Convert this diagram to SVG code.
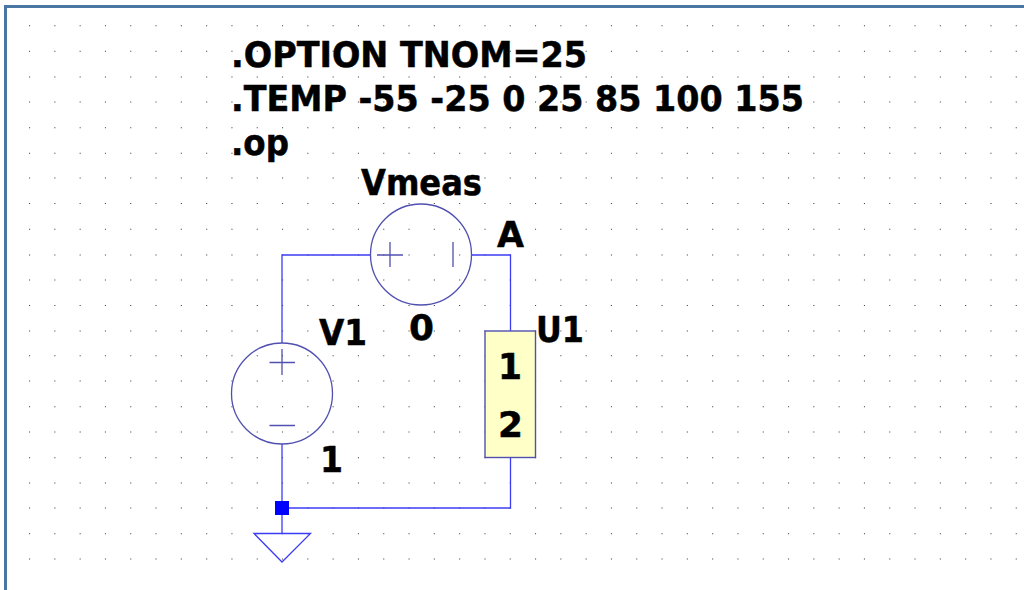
<svg xmlns="http://www.w3.org/2000/svg" width="1024" height="590" viewBox="0 0 1024 590">
<style>
text{font-family:"DejaVu Sans","Noto Sans",sans-serif;font-weight:700;font-size:35.500px;fill:#000;stroke:#000;stroke-width:.5}
.w{fill:none;stroke:#3c3cf4;stroke-width:1.300}
.s{fill:none;stroke:#5050b0;stroke-width:1.300}
.g{stroke:#444;stroke-width:1.100;stroke-dasharray:1.100 24.200;fill:none}
</style>
<rect width="1024" height="590" fill="#fff"/>
<g id="grid">
<path class="g" d="M29 25.7H1024M29 51.2H1024M29 77H1024M29 102H1024M29 127.7H1024M29 153.2H1024M29 178H1024M29 203.5H1024M29 229.2H1024M29 255H1024M29 280H1024M29 305.5H1024M29 331H1024M29 355.7H1024M29 381H1024M29 406.7H1024M29 432H1024M29 457.7H1024M29 483H1024M29 508H1024M29 533.7H1024M29 559H1024"/>
</g>
<path id="frame" d="M5.500 590V6.500H1024" fill="none" stroke="#4a76a3" stroke-width="3"/>
<g id="connectors">
<path class="w" d="M282 343V255H371"/>
<path class="w" d="M471 255H510.500V331"/>
<path class="w" d="M282 444V533.500"/>
<path class="w" d="M282 508H510.500V458"/>
</g>
<g id="Vmeas">
<circle class="s" cx="421" cy="254.500" r="50.500"/>
<path class="s" d="M377 255H403M390 242V267M453 242V267"/>
<text x="361" y="195" textLength="121" lengthAdjust="spacingAndGlyphs">Vmeas</text>
<text x="409" y="340" textLength="25" lengthAdjust="spacingAndGlyphs">0</text>
</g>
<g id="V1">
<circle class="s" cx="282" cy="393.500" r="50.500"/>
<path class="s" d="M269.500 362.500H295M282 349V375M269.500 425.500H295"/>
<text x="319" y="345" textLength="48" lengthAdjust="spacingAndGlyphs">V1</text>
<text x="320" y="472" textLength="23" lengthAdjust="spacingAndGlyphs">1</text>
</g>
<g id="U1">
<rect x="485" y="331" width="50.500" height="126.500" fill="#ffffc8" stroke="#5050b0" stroke-width="1.400"/>
<text x="536" y="342" textLength="48" lengthAdjust="spacingAndGlyphs">U1</text>
<text x="498" y="379" textLength="24" lengthAdjust="spacingAndGlyphs">1</text>
<text x="498" y="437" textLength="25" lengthAdjust="spacingAndGlyphs">2</text>
</g>
<g id="A">
<text x="497" y="247" textLength="27" lengthAdjust="spacingAndGlyphs">A</text>
</g>
<g id="ground">
<rect x="275" y="501" width="14" height="14" fill="#0000ff"/>
<path class="w" d="M254 533.500H310.500L282 562Z"/>
</g>
<g id="directives">
<text x="231" y="66.500" textLength="356" lengthAdjust="spacingAndGlyphs">.OPTION TNOM=25</text>
<text x="231" y="111" textLength="573" lengthAdjust="spacingAndGlyphs">.TEMP -55 -25 0 25 85 100 155</text>
<text x="231" y="155" textLength="58" lengthAdjust="spacingAndGlyphs">.op</text>
</g>
</svg>
